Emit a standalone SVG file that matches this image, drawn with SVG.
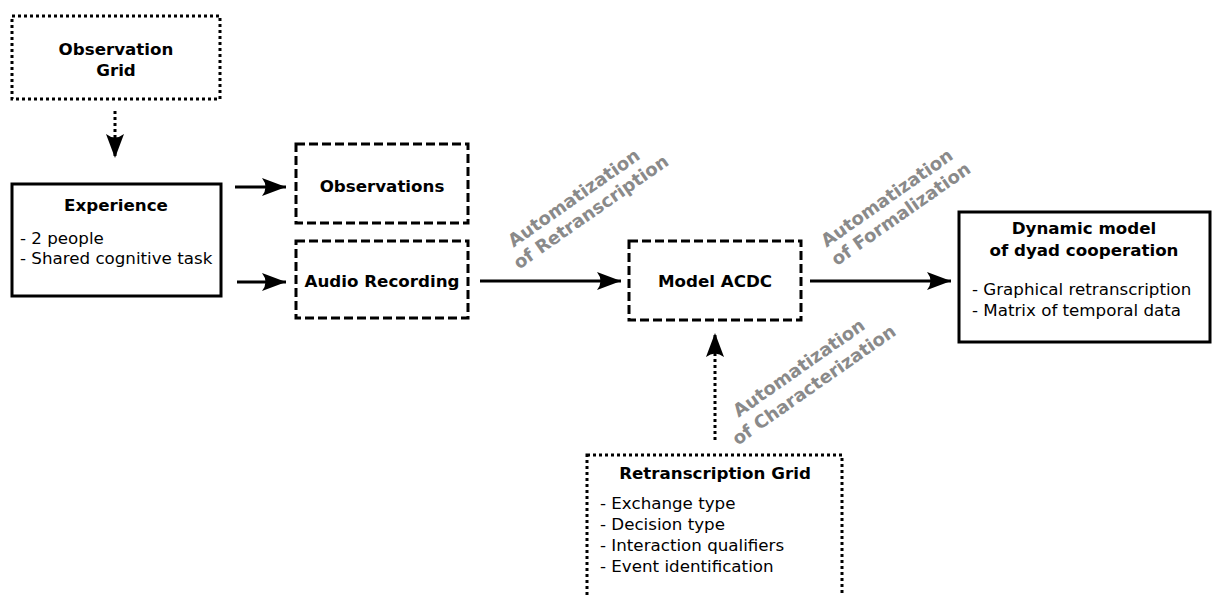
<svg xmlns="http://www.w3.org/2000/svg" width="1213" height="595" viewBox="0 0 1213 595">
<style>
.box{fill:#fff;stroke:#000;stroke-width:3}
.dash{stroke-dasharray:9,4}
.dot{stroke-dasharray:3,3}
.t{font-family:"DejaVu Sans","Liberation Sans",sans-serif;font-size:16.7px;fill:#000}
.b{font-weight:bold;text-anchor:middle}
.lab{font-family:"DejaVu Sans","Liberation Sans",sans-serif;font-size:18px;font-weight:bold;fill:#8a8a8a;text-anchor:middle}
.con{fill:none;stroke:#000;stroke-width:3}
</style>
<defs>
<marker id="ah" markerUnits="userSpaceOnUse" viewBox="-25 -10 27 20" refX="0" refY="0" markerWidth="27" markerHeight="20" orient="auto">
<path d="M0,0 L-24,-9 Q-17,0 -24,9 Z" fill="#000"/>
</marker>
</defs>
<rect width="1213" height="595" fill="#fff"/>
<g id="connectors">
<line class="con dot" x1="115" y1="111" x2="115" y2="158" marker-end="url(#ah)"/>
<line class="con" x1="235" y1="187" x2="286" y2="187" marker-end="url(#ah)"/>
<line class="con" x1="237" y1="282" x2="286" y2="282" marker-end="url(#ah)"/>
<line class="con" x1="480" y1="281" x2="621" y2="281" marker-end="url(#ah)"/>
<line class="con" x1="810" y1="281" x2="951" y2="281" marker-end="url(#ah)"/>
<line class="con dot" x1="715" y1="440" x2="715" y2="333" marker-end="url(#ah)"/>
</g>
<g id="observation-grid">
<rect class="box dot" x="12" y="16" width="208" height="83"/>
<text class="t b" x="116" y="55">Observation</text>
<text class="t b" x="116" y="76">Grid</text>
</g>
<g id="experience">
<rect class="box" x="12" y="184" width="209" height="112"/>
<text class="t b" x="116" y="211">Experience</text>
<text class="t" x="20" y="244">- 2 people</text>
<text class="t" x="20" y="264">- Shared cognitive task</text>
</g>
<g id="observations">
<rect class="box dash" x="296" y="144" width="172" height="79"/>
<text class="t b" x="382" y="192">Observations</text>
</g>
<g id="audio-recording">
<rect class="box dash" x="296" y="241" width="172" height="77"/>
<text class="t b" x="382" y="287">Audio Recording</text>
</g>
<g id="model-acdc">
<rect class="box dash" x="629" y="241" width="172" height="79"/>
<text class="t b" x="715" y="287">Model ACDC</text>
</g>
<g id="dynamic-model">
<rect class="box" x="959" y="212" width="251" height="130"/>
<text class="t b" x="1084" y="234">Dynamic model</text>
<text class="t b" x="1084" y="256">of dyad cooperation</text>
<text class="t" x="972" y="295">- Graphical retranscription</text>
<text class="t" x="972" y="316">- Matrix of temporal data</text>
</g>
<g id="retranscription-grid">
<rect class="box dot" x="587" y="455" width="255" height="145"/>
<text class="t b" x="715" y="479">Retranscription Grid</text>
<text class="t" x="600" y="509">- Exchange type</text>
<text class="t" x="600" y="530">- Decision type</text>
<text class="t" x="600" y="551">- Interaction qualifiers</text>
<text class="t" x="600" y="572">- Event identification</text>
</g>
<g id="label-retranscription">
<text class="lab" transform="translate(574,198) rotate(-35)" y="6">Automatization</text>
<text class="lab" transform="translate(591,212) rotate(-35)" y="6">of Retranscription</text>
</g>
<g id="label-formalization">
<text class="lab" transform="translate(887,198) rotate(-35)" y="6">Automatization</text>
<text class="lab" transform="translate(901,214) rotate(-35)" y="6">of Formalization</text>
</g>
<g id="label-characterization">
<text class="lab" transform="translate(799,368) rotate(-35)" y="6">Automatization</text>
<text class="lab" transform="translate(814,385) rotate(-35)" y="6">of Characterization</text>
</g>
</svg>
